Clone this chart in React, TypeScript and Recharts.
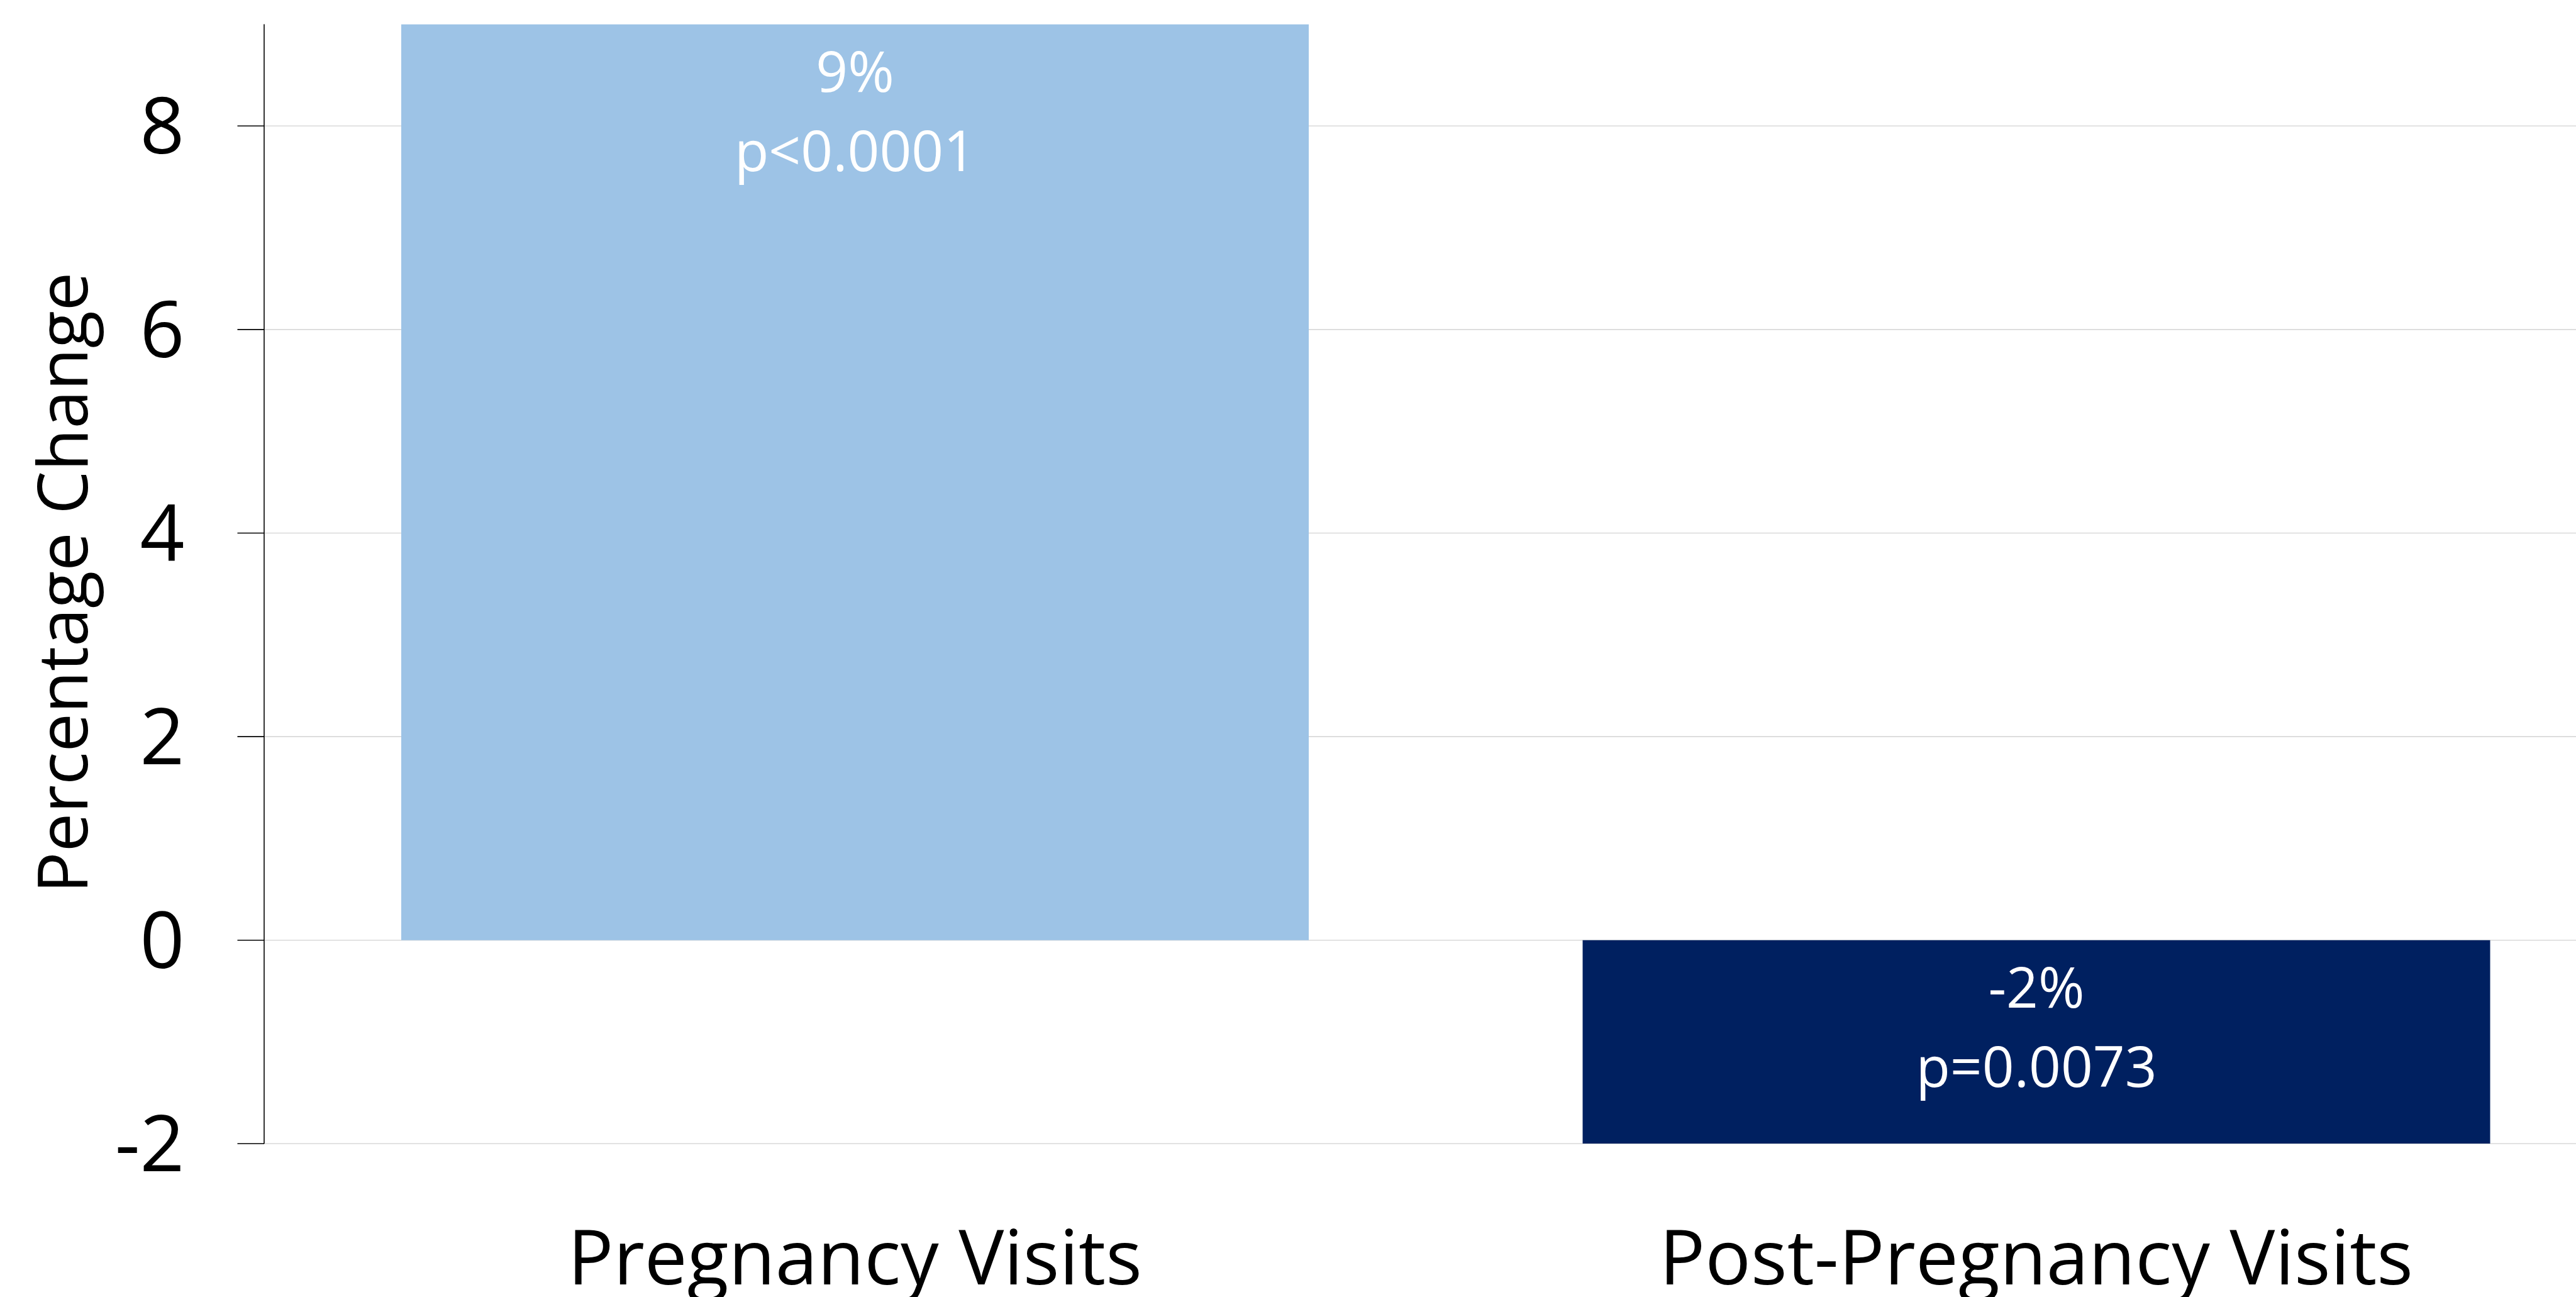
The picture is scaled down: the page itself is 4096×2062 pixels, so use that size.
import React from 'react';
import { BarChart, Bar, XAxis, YAxis, CartesianGrid, Cell, LabelList } from 'recharts';

const categories = ['Pregnancy Visits', 'Post-Pregnancy Visits'];
const percentChange = [9, -2];
const percentLabels = ['9%', '-2%'];
const pValueLabels = ['p<0.0001', 'p=0.0073'];
const barColors = ['#9DC3E6', '#002060'];
const yTicks = [-2, 0, 2, 4, 6, 8];
const yDomain: [number, number] = [-2, 9];
const yAxisTitle = 'Percentage Change';

const data = categories.map((name, i) => ({ name, value: percentChange[i] }));

const FONT = '"Open Sans", "Noto Sans", sans-serif';

const BarValueLabel = (props: any) => {
  const { x, y, width, height, index } = props;
  const top = Math.min(Number(y), Number(y) + Number(height));
  const cx = Number(x) + Number(width) / 2;
  return (
    <g>
      <text x={cx} y={top + 107} textAnchor="middle" fill="#FFFFFF" fontSize={89} fontFamily={FONT}>
        {percentLabels[index]}
      </text>
      <text x={cx} y={top + 233} textAnchor="middle" fill="#FFFFFF" fontSize={89} fontFamily={FONT}>
        {pValueLabels[index]}
      </text>
    </g>
  );
};

const CategoryTick = (props: any) => {
  const { x, y, payload } = props;
  return (
    <text x={x} y={Number(y) + 224} textAnchor="middle" fill="#000000" fontSize={121} fontFamily={FONT}>
      {payload.value}
    </text>
  );
};

const YTitle = (props: any) => {
  const vb = props.viewBox || { x: 0, y: 38.5, width: 420, height: 1780 };
  const cy = vb.y + vb.height / 2 - 2;
  const cx = 138.6;
  return (
    <text
      x={cx}
      y={cy}
      transform={`rotate(-90 ${cx} ${cy})`}
      textAnchor="middle"
      fill="#000000"
      fontSize={109.5}
      fontFamily={FONT}
    >
      {yAxisTitle}
    </text>
  );
};

// horizontal grid rows only at the tick values (no line at the domain top)
const gridRows = (args: any) => {
  const offset = (args && args.offset) || {};
  const top = Number(offset.top);
  const h = Number(offset.height);
  if (!isFinite(top) || !isFinite(h)) return [];
  const [lo, hi] = yDomain;
  return yTicks.map((t) => top + ((hi - t) / (hi - lo)) * h);
};

export default function App() {
  return (
    <div
      style={{
        position: 'absolute',
        left: 0,
        top: 0,
        width: 4096,
        height: 2062,
        overflow: 'hidden',
        background: '#FFFFFF',
      }}
    >
      <BarChart
        width={4177}
        height={2062}
        data={data}
        margin={{ top: 38.5, right: 0, bottom: 0, left: 0 }}
        barSize={1443}
      >
        <CartesianGrid
          horizontal={true}
          vertical={false}
          horizontalCoordinatesGenerator={gridRows}
          stroke="#D9D9D9"
          strokeWidth={1.6}
        />
        <XAxis
          dataKey="name"
          axisLine={false}
          tickLine={false}
          tickSize={0}
          tickMargin={0}
          height={243.7}
          interval={0}
          tick={<CategoryTick />}
        />
        <YAxis
          type="number"
          domain={yDomain}
          ticks={yTicks}
          interval={0}
          width={420}
          axisLine={{ stroke: '#000000', strokeWidth: 1.6 }}
          tickLine={{ stroke: '#000000', strokeWidth: 1.6 }}
          tickSize={42.5}
          tickMargin={84}
          tick={{ fill: '#000000', fontSize: 124, fontFamily: FONT }}
          allowDataOverflow={true}
          label={{ value: yAxisTitle, content: YTitle }}
        />
        <Bar dataKey="value" isAnimationActive={false}>
          {data.map((d, i) => (
            <Cell key={d.name} fill={barColors[i]} />
          ))}
          <LabelList dataKey="value" content={BarValueLabel} />
        </Bar>
      </BarChart>
    </div>
  );
}
